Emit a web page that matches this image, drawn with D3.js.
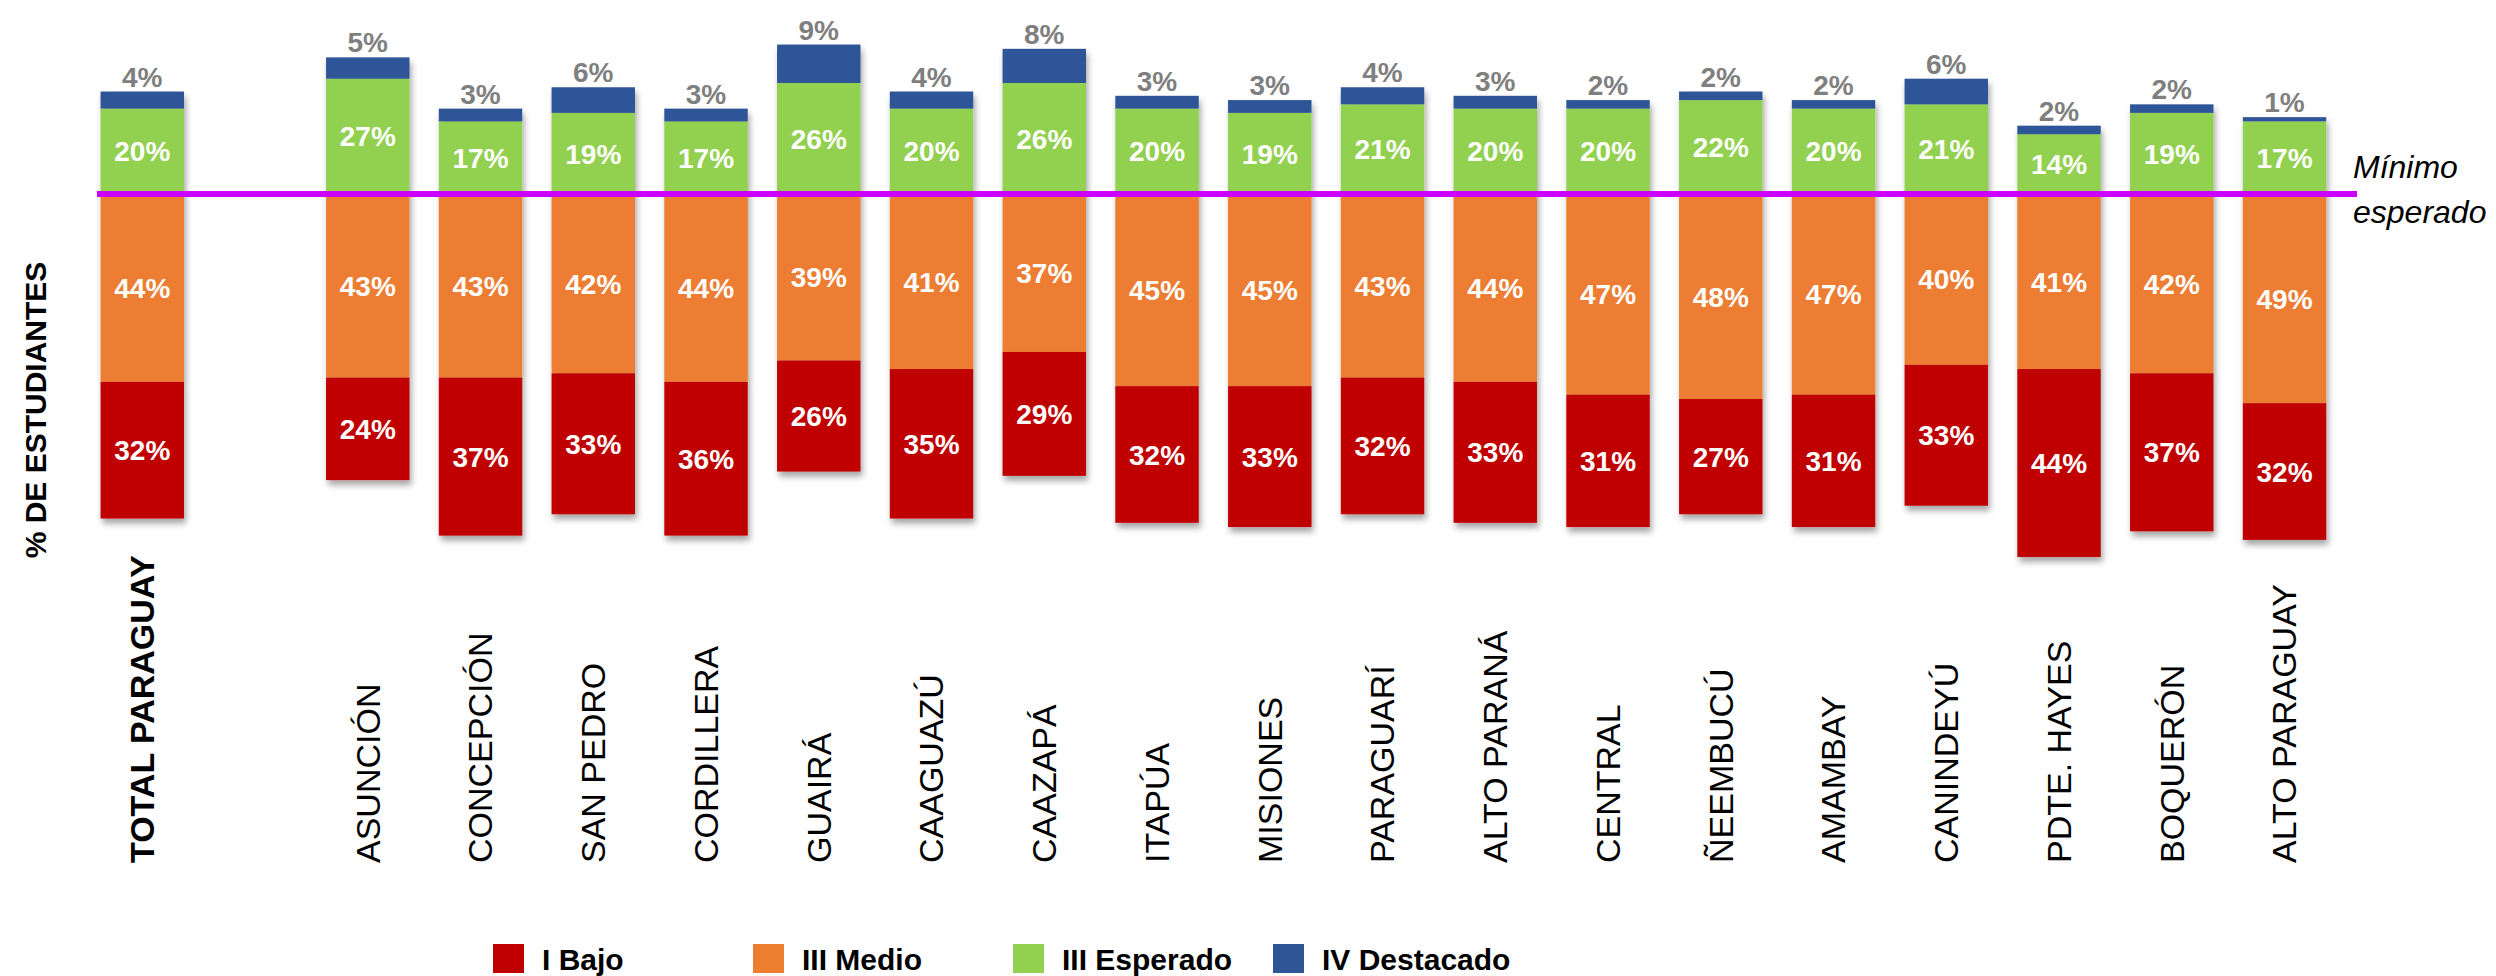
<!DOCTYPE html>
<html>
<head>
<meta charset="utf-8">
<script src="https://cdn.jsdelivr.net/npm/d3@7"></script>
<style>
  html, body { margin: 0; padding: 0; background: #ffffff; }
  svg { display: block; }
</style>
</head>
<body>
<script>
// ---- DATA ----
const categories = ["TOTAL PARAGUAY","ASUNCIÓN","CONCEPCIÓN","SAN PEDRO","CORDILLERA","GUAIRÁ","CAAGUAZÚ","CAAZAPÁ","ITAPÚA","MISIONES","PARAGUARÍ","ALTO PARANÁ","CENTRAL","ÑEEMBUCÚ","AMAMBAY","CANINDEYÚ","PDTE. HAYES","BOQUERÓN","ALTO PARAGUAY"];
const bajo      = [32,24,37,33,36,26,35,29,32,33,32,33,31,27,31,33,44,37,32];
const medio     = [44,43,43,42,44,39,41,37,45,45,43,44,47,48,47,40,41,42,49];
const esperado  = [20,27,17,19,17,26,20,26,20,19,21,20,20,22,20,21,14,19,17];
const destacado = [4,5,3,6,3,9,4,8,3,3,4,3,2,2,2,6,2,2,1];
const seriesNames = ["I Bajo","III Medio","III Esperado","IV Destacado"];
const seriesKeys = ["bajo","medio","esperado","destacado"];
const seriesColors = ["#C00000","#ED7D31","#92D050","#2F5597"];
const yTitle = "% DE ESTUDIANTES";
const refLabel = ["Mínimo","esperado"];

// ---- SETUP ----
const W = 2496, H = 976;
const svg = d3.select("body").append("svg").attr("width", W).attr("height", H);

const defs = svg.append("defs");
const f = defs.append("filter").attr("id","shadow").attr("x","-20%").attr("y","-20%").attr("width","140%").attr("height","140%");
f.append("feDropShadow").attr("dx",2).attr("dy",5).attr("stdDeviation",3).attr("flood-color","#000").attr("flood-opacity",0.35);

const GAP = "__gap__";
const domain = [categories[0], GAP, ...categories.slice(1)];
const x = d3.scaleBand().domain(domain).range([85.9, 2340.9]).paddingInner(0.26).paddingOuter(0.13);

const y = d3.scaleLinear().domain([-100, 40]).range([194 + 100*4.27, 194 - 40*4.27]);

const table = categories.map((c, i) => ({
  cat: c,
  bajo: -bajo[i], medio: -medio[i], esperado: esperado[i], destacado: destacado[i]
}));
const stack = d3.stack().keys(["medio","bajo","esperado","destacado"]).offset(d3.stackOffsetDiverging);
const stacked = stack(table);
const colorOf = k => seriesColors[seriesKeys.indexOf(k)];

// bars per category with shadow
const barG = svg.append("g");
const catGroups = barG.selectAll("g.cat").data(table).join("g").attr("class","cat").attr("filter","url(#shadow)");
catGroups.each(function(d, i) {
  const g = d3.select(this);
  stacked.forEach(s => {
    const seg = s[i];
    g.append("rect")
      .attr("x", x(d.cat))
      .attr("width", x.bandwidth())
      .attr("y", y(Math.max(seg[0], seg[1])))
      .attr("height", Math.abs(y(seg[0]) - y(seg[1])))
      .attr("fill", colorOf(s.key));
  });
});

// in-bar labels
const labelFont = "'Liberation Sans', Arial, sans-serif";
const lblG = svg.append("g");
stacked.forEach(s => {
  s.forEach((seg, i) => {
    const cx = x(categories[i]) + x.bandwidth()/2;
    const v = Math.abs(seg[1] - seg[0]);
    if (s.key === "destacado") {
      lblG.append("text")
        .attr("x", cx).attr("y", y(seg[1]) - 5)
        .attr("text-anchor","middle")
        .attr("font-family", labelFont).attr("font-weight","bold").attr("font-size", 28)
        .attr("fill","#7F7F7F")
        .text(v + "%");
    } else {
      lblG.append("text")
        .attr("x", cx).attr("y", y((seg[0] + seg[1]) / 2))
        .attr("dy","0.36em")
        .attr("text-anchor","middle")
        .attr("font-family", labelFont).attr("font-weight","bold").attr("font-size", 28)
        .attr("fill","#FFFFFF")
        .text(v + "%");
    }
  });
});

// reference line (mínimo esperado)
svg.append("line")
  .attr("x1", 97).attr("x2", 2357)
  .attr("y1", y(0)).attr("y2", y(0))
  .attr("stroke", "#CC00FF").attr("stroke-width", 6);

const refT = svg.append("text")
  .attr("font-family", labelFont).attr("font-style","italic").attr("font-size", 32).attr("fill","#000");
refT.append("tspan").attr("x", 2353).attr("y", 178).text(refLabel[0]);
refT.append("tspan").attr("x", 2353).attr("y", 223).text(refLabel[1]);

// category axis
const axis = d3.axisBottom(x).tickValues(categories).tickSize(0).tickPadding(0);
const axG = svg.append("g").attr("transform", "translate(0,863)").call(axis);
axG.select(".domain").remove();
axG.selectAll("text")
  .attr("transform","rotate(-90)")
  .attr("x", 0).attr("y", 0).attr("dy","0.35em")
  .attr("text-anchor","start")
  .attr("font-family", labelFont)
  .attr("font-size", 34)
  .attr("fill", "#000")
  .attr("font-weight", d => d === categories[0] ? "bold" : "normal");

// y title
svg.append("text")
  .attr("transform", `translate(35,410) rotate(-90)`)
  .attr("text-anchor","middle").attr("dy","0.35em")
  .attr("font-family", labelFont).attr("font-weight","bold").attr("font-size", 30)
  .attr("fill","#000")
  .text(yTitle);

// legend
const lx = d3.scalePoint().domain(seriesNames).range([493, 1273]);
const leg = svg.append("g");
seriesNames.forEach((n, i) => {
  const g = leg.append("g").attr("transform", `translate(${lx(n)},944)`);
  g.append("rect").attr("width", 31).attr("height", 29).attr("fill", seriesColors[i]);
  g.append("text").attr("x", 49).attr("y", 26)
    .attr("font-family", labelFont).attr("font-weight","bold").attr("font-size", 30).attr("fill","#000")
    .text(n);
});
</script>
</body>
</html>
